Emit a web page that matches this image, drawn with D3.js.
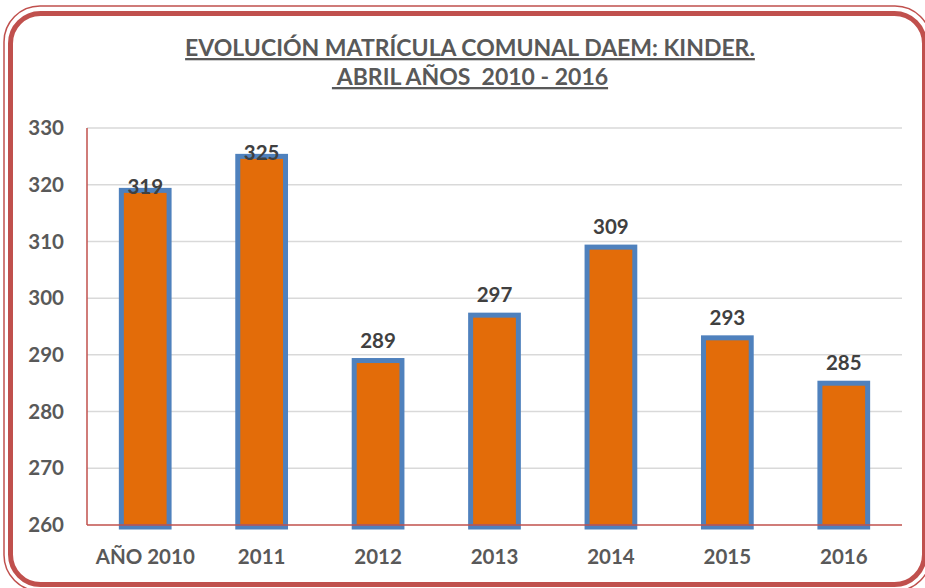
<!DOCTYPE html>
<meta charset="utf-8">
<script src="https://d3js.org/d3.v7.min.js"></script>
<style>
    body { margin: 0; background: #fff; }
    .tick-label { font-family: Lato, 'Open Sans', sans-serif; font-weight: bold; font-size: 20.5px; fill: #595959; }
    .value-label { font-family: Lato, 'Open Sans', sans-serif; font-weight: bold; font-size: 20.5px; fill: #404040; text-anchor: middle; }
    .title { font-family: Lato, 'Open Sans', sans-serif; font-weight: bold; font-size: 23px; fill: #595959; text-anchor: middle; text-decoration: underline; }
</style>
<div id="chart"></div>
<script>
    const categories = ["AÑO 2010", "2011", "2012", "2013", "2014", "2015", "2016"];
    const values = [319, 325, 289, 297, 309, 293, 285];
    const yTicks = [260, 270, 280, 290, 300, 310, 320, 330];
    const titleLines = ["EVOLUCIÓN MATRÍCULA COMUNAL DAEM: KINDER.", " ABRIL AÑOS  2010 - 2016"];

    const W = 925, H = 588;
    const red = "#c0504d";

    let svg = d3.select("#chart").append("svg")
        .attr("width", W).attr("height", H);

    // double rounded border (runs slightly off the right/bottom edge)
    svg.append("rect")
        .attr("x", 4).attr("y", 6).attr("width", 927).attr("height", 585)
        .attr("rx", 36).attr("fill", "none")
        .attr("stroke", red).attr("stroke-width", 1.5);
    svg.append("rect")
        .attr("x", 10.5).attr("y", 13.5).attr("width", 914).attr("height", 571)
        .attr("rx", 30).attr("fill", "none")
        .attr("stroke", red).attr("stroke-width", 5);

    // title
    svg.selectAll(".title")
        .data(titleLines)
        .enter().append("text")
        .attr("class", "title")
        .attr("x", 470)
        .attr("y", (d, i) => 56 + i * 29)
        .attr("xml:space", "preserve")
        .text(d => d);

    let margin = {left: 87, right: 23, top: 128, bottom: 63};

    let x = d3.scaleBand()
        .domain(categories)
        .range([margin.left, W - margin.right])
        .paddingInner(0.59).paddingOuter(0.295);

    let y = d3.scaleLinear()
        .domain([260, 330])
        .range([H - margin.bottom, margin.top]);

    // gridlines
    svg.selectAll(".grid")
        .data(yTicks.slice(1))
        .enter().append("line")
        .attr("x1", margin.left).attr("x2", W - margin.right)
        .attr("y1", d => y(d)).attr("y2", d => y(d))
        .attr("stroke", "#d9d9d9").attr("stroke-width", 1.5);

    // y tick labels
    svg.selectAll(".ylab")
        .data(yTicks)
        .enter().append("text")
        .attr("class", "tick-label")
        .attr("x", 64)
        .attr("y", d => y(d))
        .attr("dy", "0.35em")
        .attr("text-anchor", "end")
        .text(d => d);

    // bars
    svg.selectAll(".bar")
        .data(values)
        .enter().append("rect")
        .attr("x", (d, i) => x(categories[i]))
        .attr("y", d => y(d))
        .attr("width", x.bandwidth())
        .attr("height", d => y(260) - y(d) + 2)
        .attr("fill", "#e36c09")
        .attr("stroke", "#4f81bd")
        .attr("stroke-width", 5);

    // axis lines
    svg.append("line")
        .attr("x1", margin.left).attr("x2", margin.left)
        .attr("y1", margin.top).attr("y2", y(260))
        .attr("stroke", red).attr("stroke-width", 1.5);
    svg.append("line")
        .attr("x1", margin.left).attr("x2", W - margin.right)
        .attr("y1", y(260)).attr("y2", y(260))
        .attr("stroke", red).attr("stroke-width", 1.5);

    // x labels
    svg.selectAll(".xlab")
        .data(categories)
        .enter().append("text")
        .attr("class", "tick-label")
        .attr("x", d => x(d) + x.bandwidth() / 2)
        .attr("y", 557)
        .attr("dy", "0.35em")
        .attr("text-anchor", "middle")
        .text(d => d);

    // value labels
    svg.selectAll(".value-label")
        .data(values)
        .enter().append("text")
        .attr("class", "value-label")
        .attr("x", (d, i) => x(categories[i]) + x.bandwidth() / 2)
        .attr("y", d => y(d) < 200 ? y(d) + 4 : y(d) - 13)
        .text(d => d);
</script>
